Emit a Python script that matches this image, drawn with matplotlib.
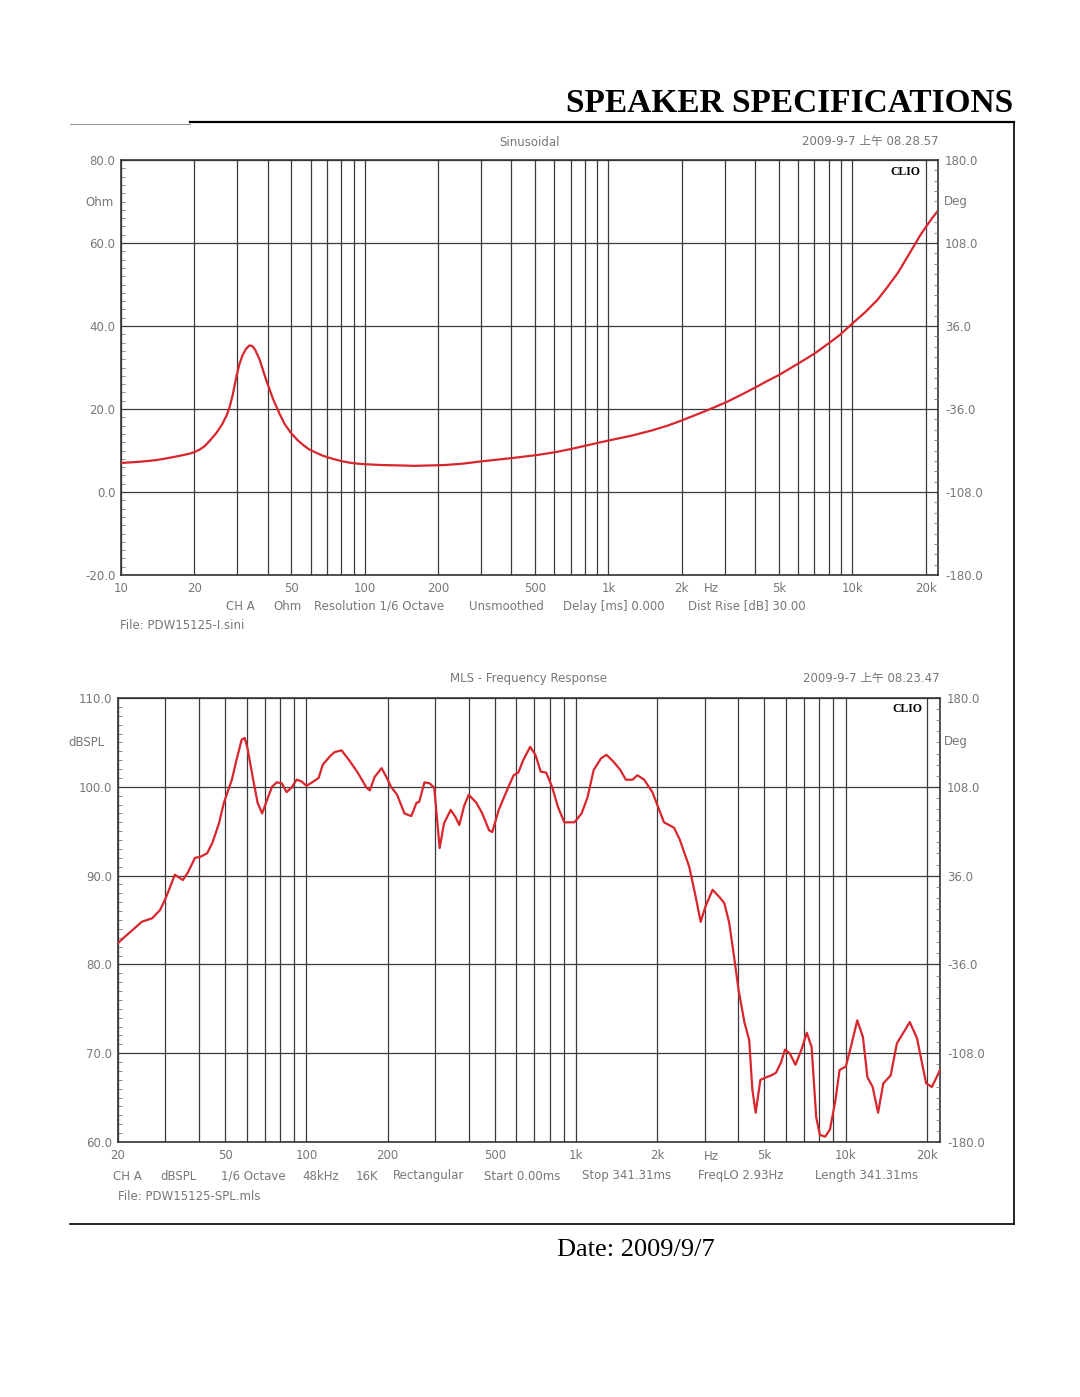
import matplotlib
matplotlib.use('Agg')
import matplotlib.pyplot as plt
from matplotlib.ticker import FixedLocator, NullFormatter
import numpy as np

# impedance curve (Ohm vs Hz)
imp_freq = [10, 11, 12, 13, 14, 15, 16, 17, 18, 19, 20, 21, 22, 23.1, 24.6, 26, 27.2,
            28, 28.7, 29.3, 29.9, 30.6, 31.5, 32.5, 33.6, 34.5, 35.5, 37, 39.4, 42, 44.6,
            47, 49.9, 53, 56, 59, 63, 67, 71, 76, 81, 88, 95, 100, 117, 140, 160, 185,
            213, 250, 303, 405, 508, 606, 707, 899, 1018, 1250, 1500, 1750, 2010, 2500,
            3060, 3500, 4040, 4500, 5010, 5500, 6060, 6600, 7140, 8000, 8880, 10060,
            11300, 12700, 14000, 15400, 16600, 17800, 19000, 20300, 21300, 22300]
imp_ohm = [7.0, 7.15, 7.3, 7.5, 7.7, 8.0, 8.3, 8.6, 8.9, 9.2, 9.6, 10.2, 11.0, 12.3,
           14.2, 16.3, 18.6, 20.8, 23.3, 25.9, 28.4, 30.8, 32.9, 34.4, 35.3, 35.2, 34.3,
           32.0, 27.0, 22.5, 19.0, 16.3, 14.2, 12.5, 11.3, 10.3, 9.5, 8.8, 8.3, 7.8, 7.4,
           7.0, 6.8, 6.7, 6.5, 6.4, 6.3, 6.4, 6.5, 6.8, 7.4, 8.2, 8.9, 9.6, 10.4, 11.8,
           12.5, 13.6, 14.8, 16.0, 17.3, 19.5, 21.7, 23.4, 25.3, 26.8, 28.2, 29.6, 31.1,
           32.4, 33.7, 35.8, 37.8, 40.7, 43.3, 46.3, 49.5, 52.8, 56.0, 59.0, 61.8, 64.3,
           66.0, 67.5]

# SPL curve (dB vs Hz)
spl_freq = [20, 21, 22.7, 24.5, 26.8, 28.6, 29.9, 31.2, 32.5, 34.8, 36.4, 38.6, 40.3,
            42.8, 44.8, 47.4, 49.4, 52.9, 55, 57.5, 59, 60.4, 63.2, 65.9, 68.5, 71.4,
            74.5, 77.6, 81, 84.4, 88, 92, 96, 100, 105, 111, 115, 122, 127, 135, 144,
            155, 167, 172, 179, 190, 198, 206, 217, 231, 245, 256, 262, 274, 286, 298,
            306, 312, 324, 343, 357, 369, 385, 400, 427, 449, 476, 489, 517, 549, 587,
            611, 637, 676, 707, 740, 775, 815, 858, 905, 987, 1049, 1103, 1163, 1238,
            1297, 1380, 1460, 1530, 1620, 1690, 1790, 1920, 2006, 2120, 2310, 2430,
            2630, 2780, 2900, 3020, 3210, 3400, 3550, 3700, 3860, 4010, 4220, 4390,
            4510, 4640, 4830, 5090, 5300, 5520, 5750, 5960, 6200, 6520, 6860, 7180,
            7480, 7780, 8030, 8400, 8750, 9170, 9500, 10020, 10460, 11050, 11600,
            12050, 12600, 13200, 13800, 14700, 15500, 17300, 18400, 19900, 20900, 22400]
spl_db = [82.4, 83.0, 83.9, 84.8, 85.2, 86.1, 87.3, 88.7, 90.1, 89.5, 90.4, 92.0, 92.1,
          92.5, 93.7, 95.9, 98.2, 100.8, 103.0, 105.3, 105.5, 104.4, 101.1, 98.2, 97.0,
          98.5, 100.0, 100.5, 100.4, 99.4, 99.9, 100.8, 100.6, 100.1, 100.5, 101.0,
          102.5, 103.4, 103.9, 104.1, 103.0, 101.6, 99.9, 99.6, 101.1, 102.1, 101.1,
          100.0, 99.1, 97.0, 96.7, 98.2, 98.3, 100.5, 100.4, 99.9, 95.9, 93.1, 95.9,
          97.4, 96.6, 95.7, 97.9, 99.1, 98.2, 97.0, 95.1, 94.9, 97.4, 99.3, 101.3,
          101.6, 103.0, 104.5, 103.6, 101.7, 101.6, 100.0, 97.7, 96.0, 96.0, 97.0,
          98.8, 101.9, 103.2, 103.6, 102.8, 101.9, 100.8, 100.8, 101.3, 100.8, 99.4,
          97.9, 96.0, 95.4, 94.0, 91.0, 87.6, 84.8, 86.5, 88.4, 87.6, 86.9, 84.7, 80.8,
          77.1, 73.4, 71.5, 65.9, 63.3, 67.0, 67.3, 67.5, 67.8, 68.9, 70.4, 70.0, 68.7,
          70.4, 72.3, 70.7, 62.8, 60.8, 60.6, 61.4, 64.7, 68.1, 68.5, 70.7, 73.7, 71.8,
          67.3, 66.2, 63.3, 66.6, 67.5, 71.1, 73.5, 71.7, 66.6, 66.2, 68.1]

major_x = [10, 20, 50, 100, 200, 500, 1000, 2000, 5000, 10000, 20000]
major_x_labels = ['10', '20', '50', '100', '200', '500', '1k', '2k', '5k', '10k', '20k']
deg_ticks = [180, 108, 36, -36, -108, -180]

top_info = ['CH A', 'Ohm', 'Resolution 1/6 Octave', 'Unsmoothed', 'Delay [ms] 0.000',
            'Dist Rise [dB] 30.00']
top_info_x = [226, 273, 314, 469, 563, 688]
bot_info = ['CH A', 'dBSPL', '1/6 Octave', '48kHz', '16K', 'Rectangular', 'Start 0.00ms',
            'Stop 341.31ms', 'FreqLO 2.93Hz', 'Length 341.31ms']
bot_info_x = [113, 160, 221, 302, 356, 393, 484, 582, 698, 815]

W, H = 1080, 1397
GRAY = '#777777'
GRID = '#3a3a3a'
RED = '#d8262c'
SANS = ['DejaVu Sans', 'Noto Sans CJK SC']
FS = 8.5

fig = plt.figure(figsize=(W / 100, H / 100), dpi=100)


def fx(px):
    return px / W


def fy(py):
    return 1 - py / H


def label(x, y, s, ha='left'):
    fig.text(fx(x), fy(y), s, ha=ha, va='center', fontsize=FS, color=GRAY, family=SANS)


def gridlines(ax):
    minors = [m * 10 ** e for e in range(1, 5) for m in range(1, 10)]
    ax.xaxis.set_major_locator(FixedLocator(major_x))
    ax.set_xticklabels(major_x_labels)
    ax.xaxis.set_minor_locator(FixedLocator(minors))
    ax.xaxis.set_minor_formatter(NullFormatter())
    ax.grid(True, which='both', axis='x', color=GRID, lw=0.9)
    ax.grid(True, which='major', axis='y', color=GRID, lw=0.9)
    ax.tick_params(axis='x', which='both', length=0, pad=5, labelsize=FS, labelcolor=GRAY)
    ax.tick_params(axis='y', which='major', length=0, pad=4, labelsize=FS, labelcolor=GRAY)
    ax.tick_params(axis='y', which='minor', direction='in', length=3, color=GRAY, width=0.6)
    for s in ax.spines.values():
        s.set_color('#333333')
        s.set_linewidth(1.2)


def deg_axis(ax):
    ax2 = ax.twinx()
    ax2.set_ylim(-180, 180)
    ax2.set_yticks(deg_ticks)
    ax2.set_yticklabels(['%.1f' % v for v in deg_ticks])
    ax2.set_yticks(np.arange(-180, 181, 9), minor=True)
    ax2.tick_params(axis='y', which='major', length=0, pad=5, labelsize=FS, labelcolor=GRAY)
    ax2.tick_params(axis='y', which='minor', direction='in', length=3, color=GRAY, width=0.6)
    for s in ax2.spines.values():
        s.set_visible(False)
    return ax2


# top: impedance
ax1 = fig.add_axes([fx(121), fy(575), fx(938 - 121), (575 - 160) / H])
ax1.set_xscale('log')
ax1.set_xlim(10, 22500)
ax1.set_ylim(-20, 80)
ax1.set_yticks([-20, 0, 20, 40, 60, 80])
ax1.set_yticklabels(['%.1f' % v for v in [-20, 0, 20, 40, 60, 80]])
ax1.set_yticks(np.arange(-20, 81, 2), minor=True)
gridlines(ax1)
ax1.plot(imp_freq, imp_ohm, color=RED, lw=1.6, zorder=5)
deg_axis(ax1)
ax1.text(0.978, 0.985, 'CLIO', transform=ax1.transAxes, ha='right', va='top',
         fontsize=8.5, fontweight='bold', family='Liberation Serif')

# bottom: SPL
ax3 = fig.add_axes([fx(118), fy(1142), fx(940 - 118), (1142 - 698) / H])
ax3.set_xscale('log')
ax3.set_xlim(20, 22400)
ax3.set_ylim(60, 110)
ax3.set_yticks([60, 70, 80, 90, 100, 110])
ax3.set_yticklabels(['%.1f' % v for v in [60, 70, 80, 90, 100, 110]])
ax3.set_yticks(np.arange(60, 111, 1), minor=True)
gridlines(ax3)
ax3.plot(spl_freq, spl_db, color=RED, lw=1.6, zorder=5)
deg_axis(ax3)
ax3.text(0.978, 0.988, 'CLIO', transform=ax3.transAxes, ha='right', va='top',
         fontsize=8.5, fontweight='bold', family='Liberation Serif')

for a in fig.axes:
    for lab in a.get_xticklabels() + a.get_yticklabels():
        lab.set_family(SANS)

# "Hz" sits on the tick label row
label(711, 588, 'Hz', ha='center')
label(711, 1157, 'Hz', ha='center')

# axis unit labels
label(100, 202, 'Ohm', ha='center')
label(944, 202, 'Deg')
label(68, 742, 'dBSPL')
label(944, 742, 'Deg')

# headers
label(530, 142, 'Sinusoidal', ha='center')
label(938, 142, '2009-9-7 上午 08.28.57', ha='right')
label(528, 678, 'MLS - Frequency Response', ha='center')
label(940, 678, '2009-9-7 上午 08.23.47', ha='right')

# footers
for t, x in zip(top_info, top_info_x):
    label(x, 606, t)
label(120, 626, 'File: PDW15125-I.sini')
for t, x in zip(bot_info, bot_info_x):
    label(x, 1176, t)
label(118, 1196, 'File: PDW15125-SPL.mls')

# page frame and titles
fig.add_artist(plt.Line2D([fx(70), fx(190)], [fy(124), fy(124)], color='#999999', lw=0.8))
fig.add_artist(plt.Line2D([fx(190), fx(1014)], [fy(122), fy(122)], color='black', lw=1.6))
fig.add_artist(plt.Line2D([fx(1014), fx(1014)], [fy(122), fy(1224)], color='black', lw=1.2))
fig.add_artist(plt.Line2D([fx(70), fx(1014)], [fy(1224), fy(1224)], color='black', lw=1.2))
fig.text(fx(1013), fy(103), 'SPEAKER SPECIFICATIONS', ha='right', va='center', fontsize=24,
         fontweight='bold', family='Liberation Serif')
fig.text(fx(636), fy(1250), 'Date: 2009/9/7', ha='center', va='center', fontsize=19,
         family='Liberation Serif')

fig.savefig('out.png', dpi=100, facecolor='white')
